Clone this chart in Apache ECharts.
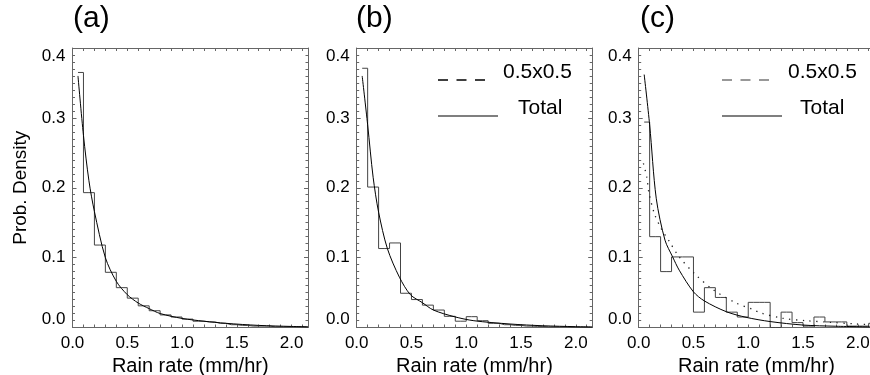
<!DOCTYPE html>
<html>
<head>
<meta charset="utf-8">
<script src="https://cdn.jsdelivr.net/npm/echarts@6/dist/echarts.min.js"></script>
<style>html,body{margin:0;padding:0;background:#fff}#chart{width:870px;height:375px}</style>
</head>
<body>
<div id="chart"></div>
<script>
// ---- data ----
const binCenters = [0.05,0.15,0.25,0.35,0.45,0.55,0.65,0.75,0.85,0.95,1.05,1.15,1.25,1.35,1.45,1.55,1.65,1.75,1.85,1.95,2.05,2.15];
const histA = [0.365,0.193,0.118,0.079,0.057,0.042,0.031,0.024,0.018,0.015,0.012,0.009,0.008,0.006,0.004,0.003,0.002,0.002,0.001,0.001,0.001,0.0005];
const histB = [0.371,0.201,0.113,0.121,0.049,0.040,0.032,0.025,0.016,0.009,0.0155,0.0097,0.006,0.004,0.003,0.002,0.0015,0.001,0.001,0.0005,0.0005,0.0003];
const histC = [0.294,0.130,0.080,0.101,0.101,0.022,0.057,0.043,0.022,0.015,0.036,0.036,0.000,0.022,0.007,0.002,0.015,0.008,0.008,0.002,0.002,0.006];

const totalXA = [0.05,0.1,0.15,0.2,0.3,0.4,0.5,0.6,0.7,0.8,1.0,1.2,1.4,1.7,2.0,2.15];
const totalA  = [0.360,0.275,0.210,0.166,0.100,0.066,0.047,0.035,0.027,0.020,0.013,0.009,0.006,0.003,0.0015,0.001];
const totalXB = [0.05,0.1,0.15,0.2,0.28,0.39,0.49,0.6,0.7,0.89,1.07,1.4,1.7,2.0,2.15];
const totalB  = [0.360,0.290,0.215,0.165,0.113,0.072,0.047,0.0355,0.025,0.0155,0.0097,0.005,0.0025,0.0012,0.0008];
const totalXC = [0.05,0.1,0.16,0.24,0.31,0.37,0.5,0.6,0.8,0.98,1.2,1.5,1.8,2.15];
const totalC  = [0.362,0.290,0.185,0.125,0.101,0.082,0.051,0.038,0.0226,0.0146,0.0085,0.0035,0.0018,0.0008];
const fineXC  = [0.043,0.074,0.092,0.143,0.204,0.28,0.37,0.51,0.68,0.89,1.04,1.11,1.32,1.53,1.75,1.99,2.15];
const fineC   = [0.235,0.215,0.194,0.163,0.142,0.123,0.101,0.077,0.054,0.035,0.026,0.021,0.013,0.0097,0.0074,0.005,0.004];

const xTickLabels = ['0.0','0.5','1.0','1.5','2.0'];
const yTickLabels = ['0.0','0.1','0.2','0.3','0.4'];
const panelLabels = ['(a)','(b)','(c)'];
const legendNames = ['0.5x0.5','Total'];

// ---- chart ----
const FONT = '"Liberation Sans", Arial, Helvetica, sans-serif';
const AXIS_COLOR = '#666';
const gridLefts = [72.5, 356.7, 638.7];
const panelHist = [histA, histB, histC];
const panelTotal = [[totalXA,totalA],[totalXB,totalB],[totalXC,totalC]];

function pairs(xs, ys){ return xs.map((x,k)=>[x, ys[k]]); }
function xLabel(v){
  const s = v.toFixed(1);
  return (Math.abs(v*2 - Math.round(v*2)) < 1e-6 && xTickLabels.indexOf(s) >= 0) ? s : '';
}
function yLabel(v){
  const s = v.toFixed(1);
  return yTickLabels.indexOf(s) >= 0 ? s : '';
}

const grid = gridLefts.map(l => ({left:l, top:48, width:235.5, height:279.5, outerBoundsMode:'none', containLabel:false}));
const xAxis = [], yAxis = [], series = [];
gridLefts.forEach((l,i)=>{
  const cx = {type:'value', gridIndex:i, min:0, max:2.15, interval:0.1,
    splitLine:{show:false},
    axisLine:{show:true, onZero:false, lineStyle:{color:AXIS_COLOR, width:1}},
    axisTick:{show:true, inside:true, length:3, lineStyle:{color:AXIS_COLOR}}};
  xAxis.push(Object.assign({}, cx, {position:'bottom',
    axisLabel:{show:true, formatter:xLabel, fontSize:17, color:'#000', margin:7, fontFamily:FONT, showMaxLabel:false},
    name:'Rain rate (mm/hr)', nameLocation:'middle', nameGap:22,
    nameTextStyle:{fontSize:20, color:'#000', fontFamily:FONT}}));
  xAxis.push(Object.assign({}, cx, {position:'top', axisLabel:{show:false}}));
  const cy = {type:'value', gridIndex:i, min:0, max:0.4, interval:0.1,
    splitLine:{show:false},
    axisLine:{show:true, onZero:false, lineStyle:{color:AXIS_COLOR, width:1}},
    axisTick:{show:true, inside:true, length:4, lineStyle:{color:AXIS_COLOR}},
    minorTick:{show:true, splitNumber:10, length:2.5, lineStyle:{color:AXIS_COLOR}}};
  const left = Object.assign({}, cy, {position:'left',
    axisLabel:{show:true, formatter:yLabel, fontSize:17, color:'#000', margin:7, fontFamily:FONT,
      verticalAlignMinLabel:'bottom', verticalAlignMaxLabel:'top'}});
  if (i === 0) {
    Object.assign(left, {name:'Prob. Density', nameLocation:'middle', nameGap:42,
      nameTextStyle:{fontSize:19, color:'#000', fontFamily:FONT}});
  }
  yAxis.push(left);
  yAxis.push(Object.assign({}, cy, {position:'right', axisLabel:{show:false}}));

  series.push({type:'line', name:'hist'+i, xAxisIndex:2*i, yAxisIndex:2*i,
    data:pairs(binCenters, panelHist[i]), step:'middle', symbol:'none',
    lineStyle:{color:'#444', width:1}, silent:true});
  series.push({type:'line', name:legendNames[1], xAxisIndex:2*i, yAxisIndex:2*i,
    data:pairs(panelTotal[i][0], panelTotal[i][1]), smooth:0.3, symbol:'none',
    lineStyle:{color:'#000', width:1}, silent:true});
});
series.push({type:'line', name:legendNames[0], xAxisIndex:4, yAxisIndex:4,
  data:pairs(fineXC, fineC), smooth:0.3, symbol:'none',
  lineStyle:{color:'#222', width:1.3, type:[1.3,5.5]}, silent:true});

const title = panelLabels.map((t,i)=>({text:t, left:[73,356,640][i], top:4, padding:0,
  textStyle:{fontSize:30, fontWeight:'normal', color:'#000', fontFamily:FONT}}));

function legendGraphics(x0, txtX1, txtX2, dashColor){
  return [
    {type:'line', shape:{x1:x0, y1:80, x2:x0+47, y2:80}, style:{stroke:dashColor, lineWidth:1.5, lineDash:[10,8.5]}},
    {type:'text', x:txtX1, y:72, style:{text:legendNames[0], fill:'#000', fontSize:21, fontFamily:FONT, verticalAlign:'middle', align:'left'}},
    {type:'line', shape:{x1:x0, y1:116, x2:x0+60, y2:116}, style:{stroke:'#000', lineWidth:1.2}},
    {type:'text', x:txtX2, y:108, style:{text:legendNames[1], fill:'#000', fontSize:21, fontFamily:FONT, verticalAlign:'middle', align:'left'}}
  ];
}

const chart = echarts.init(document.getElementById('chart'), null, {renderer:'canvas'});
chart.setOption({
  animation:false,
  backgroundColor:'#fff',
  title, grid, xAxis, yAxis, series,
  graphic: legendGraphics(438, 503, 518, '#000').concat(legendGraphics(722, 788, 800, '#777'))
});
</script>
</body>
</html>
